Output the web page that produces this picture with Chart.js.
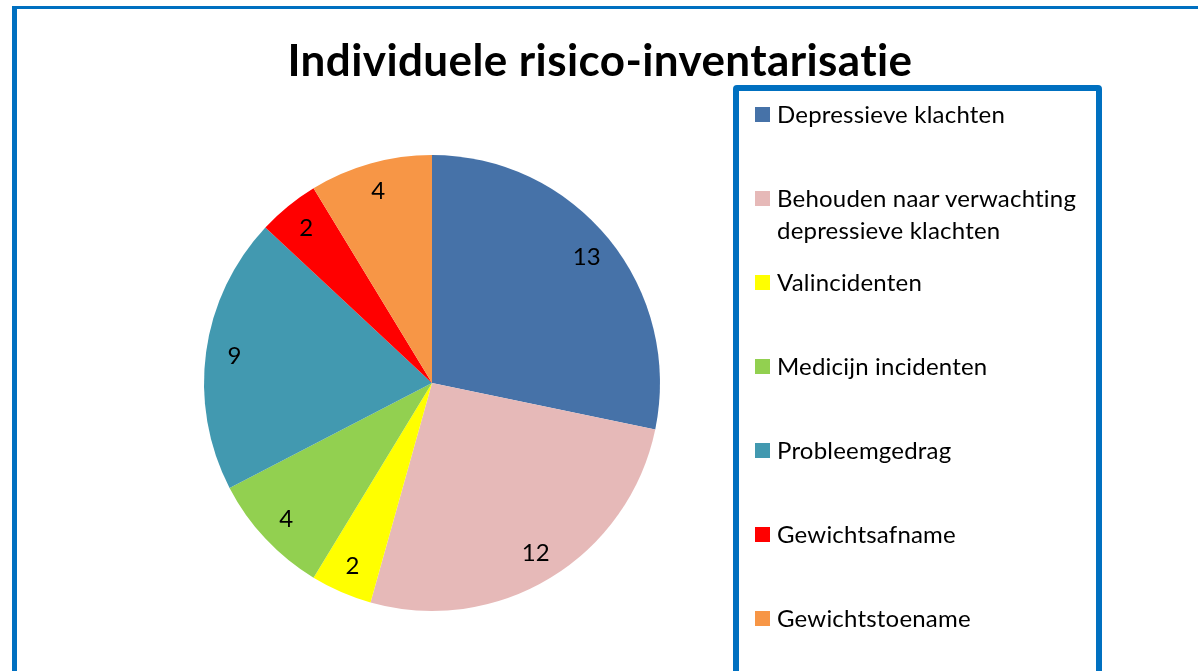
<!DOCTYPE html>
<html>
<head>
<meta charset="utf-8">
<script src="https://cdn.jsdelivr.net/npm/chart.js@4/dist/chart.umd.min.js"></script>
<style>
  html, body { margin: 0; padding: 0; background: #fff; }
  body { width: 1198px; height: 671px; position: relative; overflow: hidden; font-family: Lato, "Open Sans", sans-serif; }
  #frame { position: absolute; left: 12px; top: 6px; width: 1300px; height: 800px; border-left: 5px solid #0070C0; border-top: 3px solid #0070C0; box-sizing: border-box; }
  #title { position: absolute; left: 0; width: 1200px; top: 32px; text-align: center; font-size: 44px; letter-spacing: 0.4px; font-weight: bold; color: #000; line-height: 54px; }
  #wrap { position: absolute; left: 0; top: 0; width: 1198px; height: 671px; }
  #legend { position: absolute; left: 733px; top: 85px; width: 369px; height: 700px; border: 6px solid #0070C0; border-radius: 4px; box-sizing: border-box; }
  .item { position: absolute; left: 16px; font-size: 24px; letter-spacing: 0.2px; line-height: 32px; color: #000; }
  .sw { position: absolute; left: 0; top: 9px; width: 15px; height: 15px; }
  .txt { position: absolute; left: 22px; white-space: nowrap; }
</style>
</head>
<body>
<div id="frame"></div>
<div id="wrap"><canvas id="c" width="1198" height="671"></canvas></div>
<div id="title">Individuele risico-inventarisatie</div>
<div id="legend"></div>
<script>
const categories = [
  "Depressieve klachten",
  "Behouden naar verwachting depressieve klachten",
  "Valincidenten",
  "Medicijn incidenten",
  "Probleemgedrag",
  "Gewichtsafname",
  "Gewichtstoename"
];
const legendLines = [
  ["Depressieve klachten"],
  ["Behouden naar verwachting", "depressieve klachten"],
  ["Valincidenten"],
  ["Medicijn incidenten"],
  ["Probleemgedrag"],
  ["Gewichtsafname"],
  ["Gewichtstoename"]
];
const values = [13, 12, 2, 4, 9, 2, 4];
const colors = ["#4672A8", "#E6B9B8", "#FFFF00", "#92D050", "#4299B0", "#FF0000", "#F79646"];

// HTML legend
const legendEl = document.getElementById('legend');
const rowTops = [7, 91, 175, 259, 343, 427, 511];
legendLines.forEach((lines, i) => {
  const d = document.createElement('div');
  d.className = 'item';
  d.style.top = rowTops[i] + 'px';
  const sw = document.createElement('div');
  sw.className = 'sw';
  sw.style.background = colors[i];
  d.appendChild(sw);
  const t = document.createElement('div');
  t.className = 'txt';
  t.innerHTML = lines.join('<br>');
  d.appendChild(t);
  legendEl.appendChild(d);
});

const labelPlugin = {
  id: 'sliceLabels',
  afterDatasetsDraw(chart) {
    const ctx = chart.ctx;
    const meta = chart.getDatasetMeta(0);
    ctx.save();
    ctx.font = '24px Lato, "Open Sans", sans-serif';
    ctx.fillStyle = '#000';
    ctx.textAlign = 'center';
    ctx.textBaseline = 'middle';
    meta.data.forEach((arc, i) => {
      const mid = (arc.startAngle + arc.endAngle) / 2;
      const r = arc.outerRadius * 0.875;
      ctx.fillText(String(values[i]), arc.x + Math.cos(mid) * r, arc.y + Math.sin(mid) * r);
    });
    ctx.restore();
  }
};

new Chart(document.getElementById('c'), {
  type: 'pie',
  data: {
    labels: categories,
    datasets: [{ data: values, backgroundColor: colors, borderWidth: 0 }]
  },
  options: {
    responsive: false,
    animation: false,
    layout: { padding: { left: 204, right: 538, top: 155, bottom: 60 } },
    plugins: { legend: { display: false }, tooltip: { enabled: false }, title: { display: false } }
  },
  plugins: [labelPlugin]
});
</script>
</body>
</html>
